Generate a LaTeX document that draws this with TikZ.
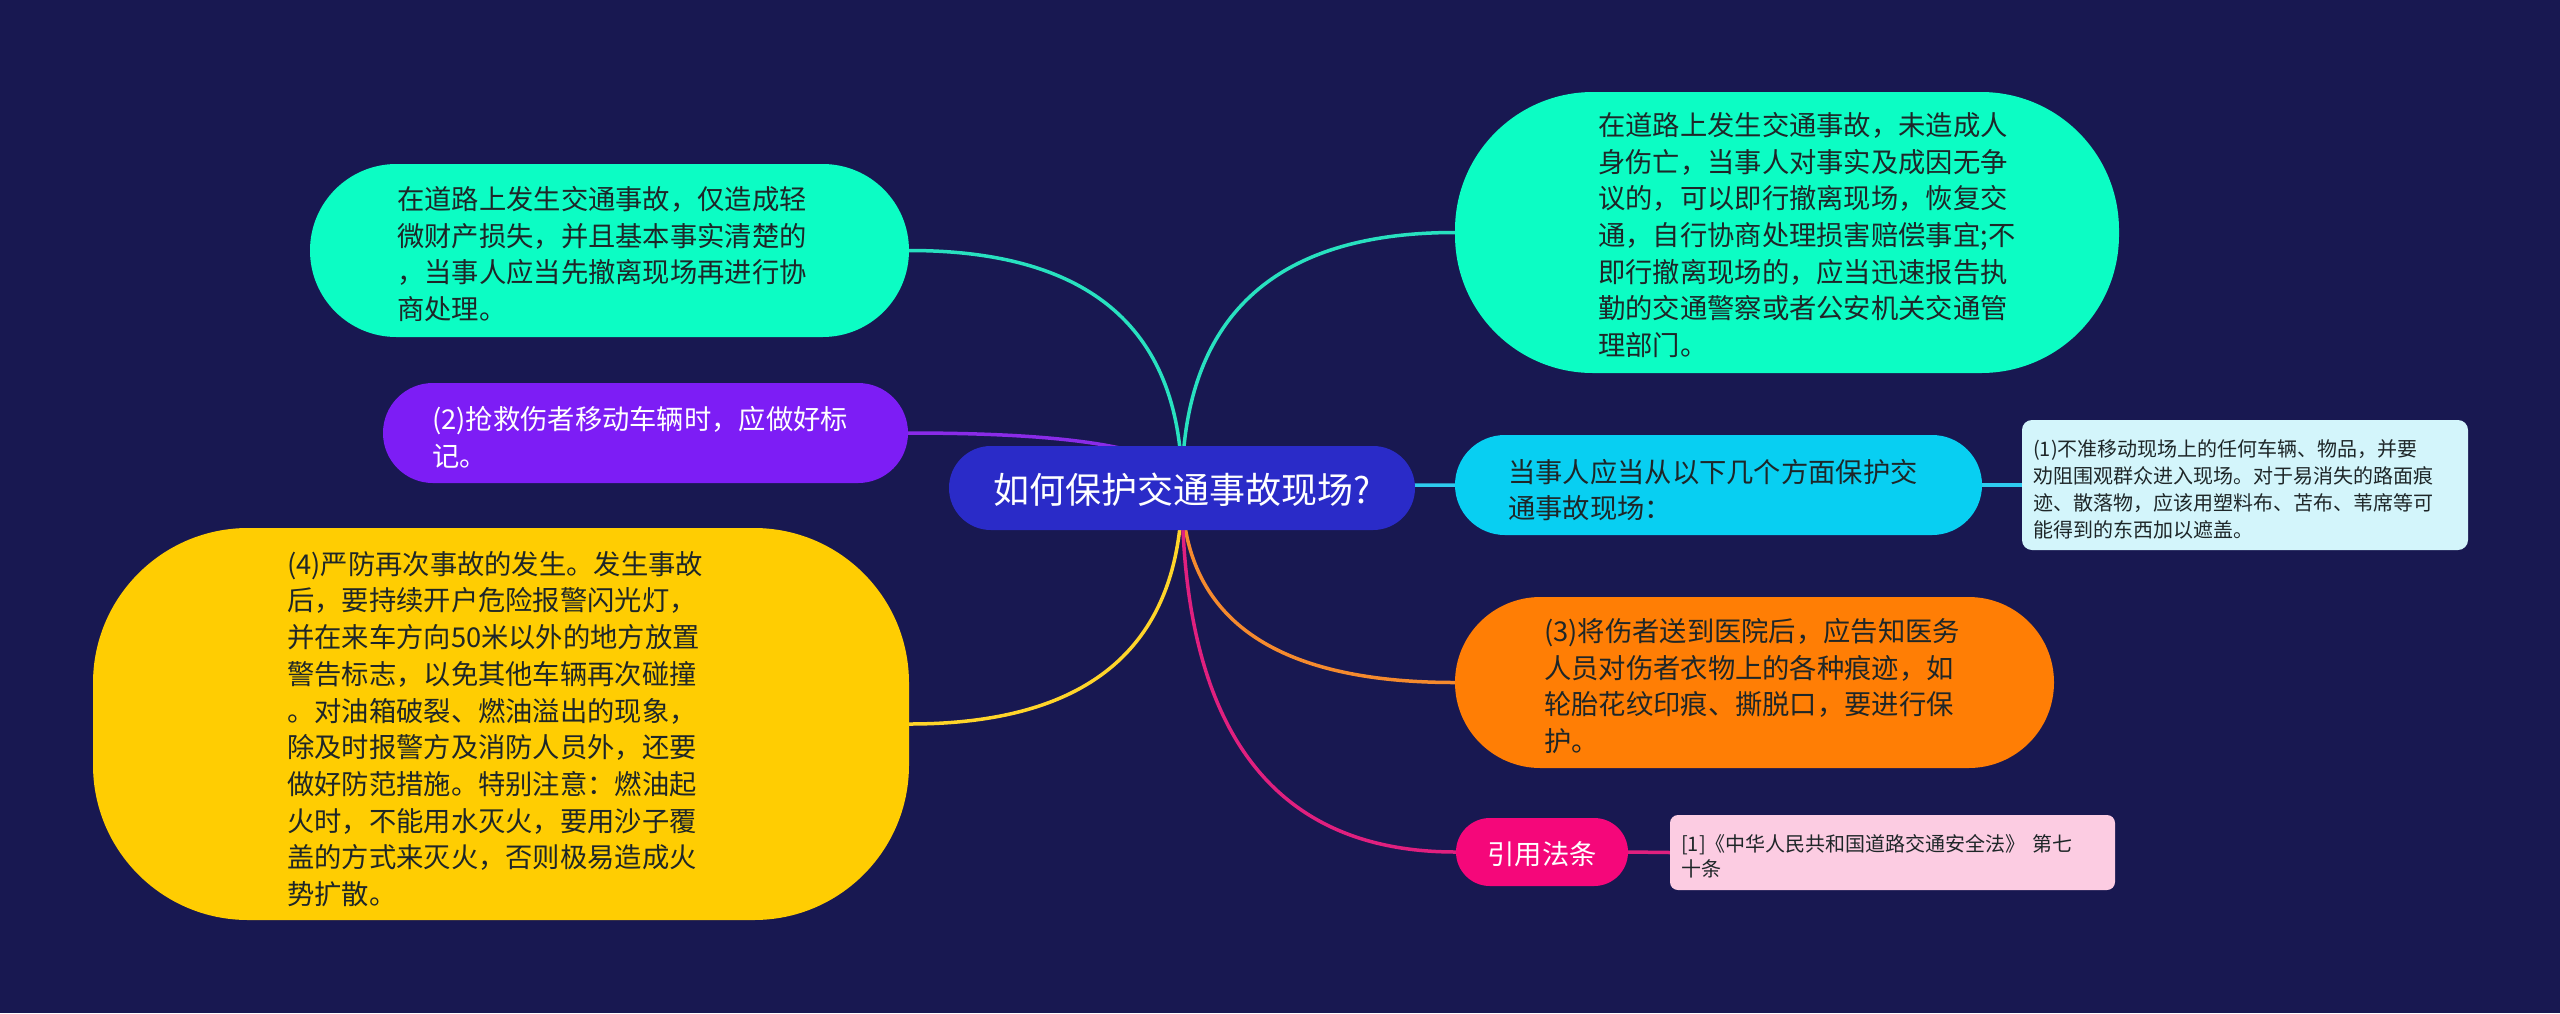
\documentclass[tikz,border=0pt]{standalone}
\usepackage{fontspec}
\setmainfont{Noto Sans CJK SC}
\usetikzlibrary{backgrounds,calc}
\definecolor{bg}{RGB}{24,24,81}
\definecolor{centralc}{RGB}{42,43,200}
\definecolor{tealc}{RGB}{12,253,196}
\definecolor{purplec}{RGB}{125,29,245}
\definecolor{yellowc}{RGB}{255,205,2}
\definecolor{cyanc}{RGB}{8,207,242}
\definecolor{lightcyan}{RGB}{211,245,251}
\definecolor{orangec}{RGB}{255,126,5}
\definecolor{pinkc}{RGB}{245,7,122}
\definecolor{lightpink}{RGB}{252,204,226}
\definecolor{darktext}{RGB}{30,38,40}
\definecolor{lteal}{RGB}{40,225,192}
\definecolor{lpurple}{RGB}{138,43,232}
\definecolor{lyellow}{RGB}{255,213,42}
\definecolor{lcyan}{RGB}{46,203,239}
\definecolor{lorange}{RGB}{245,138,46}
\definecolor{lpink}{RGB}{224,32,127}
\newcommand{\quadconn}[3]{% #1 style, #2 child anchor, #3 hub
  \draw[#1] (#2) .. controls ($(#2)!0.6667!(#3 |- #2)$) and ($(#3)!0.6667!(#3 |- #2)$) .. (#3);}
\begin{document}
\begin{tikzpicture}[x=1pt,y=-1pt,
  box/.style={rectangle, inner sep=0pt, draw=none},
  txt/.style={inner sep=0pt, anchor=west, align=left, text width=#1},
  big/.style={font=\fontsize{27.3}{36.7}\selectfont},
  small/.style={font=\fontsize{20}{27}\selectfont},
  conn/.style={line width=3.5pt}]
\useasboundingbox (0,0) rectangle (2560,1013);

% central
\node[box, fill=centralc, minimum width=466pt, minimum height=84pt, rounded corners=41.9pt] (c) at (1182,488) {};
\node[inner sep=0pt, text=white, font=\fontsize{36}{40}\selectfont] (ct) at (1182,490) {如何保护交通事故现场?};

% A
\node[box, fill=tealc, minimum width=599pt, minimum height=173pt, rounded corners=86.4pt] (a) at (609.5,250.5) {};
\node[txt=460pt, big, text=darktext] (at) at (397,254) {在道路上发生交通事故，仅造成轻\\微财产损失，并且基本事实清楚的\\，当事人应当先撤离现场再进行协\\商处理。};

% B
\node[box, fill=purplec, minimum width=525pt, minimum height=100pt, rounded corners=49.9pt] (b) at (645.5,433) {};
\node[txt=460pt, big, text=white] (bt) at (432,437) {(2)抢救伤者移动车辆时，应做好标\\记。};

% C
\node[box, fill=yellowc, minimum width=816pt, minimum height=392pt, rounded corners=155pt] (cc) at (501,724) {};
\node[txt=460pt, big, text=darktext] (cct) at (287,729) {(4)严防再次事故的发生。发生事故\\后，要持续开户危险报警闪光灯，\\并在来车方向50米以外的地方放置\\警告标志，以免其他车辆再次碰撞\\。对油箱破裂、燃油溢出的现象，\\除及时报警方及消防人员外，还要\\做好防范措施。特别注意：燃油起\\火时，不能用水灭火，要用沙子覆\\盖的方式来灭火，否则极易造成火\\势扩散。};

% D
\node[box, fill=tealc, minimum width=664pt, minimum height=281pt, rounded corners=138pt] (d) at (1787,232.5) {};
\node[txt=460pt, big, text=darktext] (dt) at (1598,235) {在道路上发生交通事故，未造成人\\身伤亡，当事人对事实及成因无争\\议的，可以即行撤离现场，恢复交\\通，自行协商处理损害赔偿事宜;不\\即行撤离现场的，应当迅速报告执\\勤的交通警察或者公安机关交通管\\理部门。};

% E
\node[box, fill=cyanc, minimum width=527pt, minimum height=100pt, rounded corners=49.9pt] (e) at (1718.5,485) {};
\node[txt=460pt, big, text=darktext] (et) at (1508,490) {当事人应当从以下几个方面保护交\\通事故现场：};

% F
\node[box, fill=lightcyan, minimum width=446pt, minimum height=130pt, rounded corners=10pt] (f) at (2245,485) {};
\node[txt=440pt, small, text=darktext] (ft) at (2033,489) {(1)不准移动现场上的任何车辆、物品，并要\\劝阻围观群众进入现场。对于易消失的路面痕\\迹、散落物，应该用塑料布、苫布、苇席等可\\能得到的东西加以遮盖。};

% G
\node[box, fill=orangec, minimum width=599pt, minimum height=171pt, rounded corners=85.4pt] (g) at (1754.5,682.5) {};
\node[txt=460pt, big, text=darktext] (gt) at (1544,686) {(3)将伤者送到医院后，应告知医务\\人员对伤者衣物上的各种痕迹，如\\轮胎花纹印痕、撕脱口，要进行保\\护。};

% H
\node[box, fill=pinkc, minimum width=172pt, minimum height=68pt, rounded corners=33.9pt] (h) at (1542,852) {};
\node[inner sep=0pt, text=white, big] (ht) at (1542,854) {引用法条};

% I
\node[box, fill=lightpink, minimum width=445pt, minimum height=75pt, rounded corners=8pt] (i) at (1892.5,852.5) {};
\node[txt=440pt, text=darktext, font=\fontsize{20}{25}\selectfont] (it) at (1681,856) {[1]《中华人民共和国道路交通安全法》 第七\\十条};

\begin{scope}[on background layer]
  \fill[bg] (0,0) rectangle (2560,1013);
  \quadconn{conn, lteal}{a.east}{c.center}
  \quadconn{conn, lpurple}{b.east}{c.center}
  \quadconn{conn, lyellow}{cc.east}{c.center}
  \quadconn{conn, lteal}{d.west}{c.center}
  \quadconn{conn, lcyan}{e.west}{c.center}
  \quadconn{conn, lorange}{g.west}{c.center}
  \quadconn{conn, lpink}{h.west}{c.center}
  \draw[conn, lcyan] (e.east) -- (f.west);
  \draw[conn, lpink] (h.east) -- (i.west);
\end{scope}
\end{tikzpicture}
\end{document}
